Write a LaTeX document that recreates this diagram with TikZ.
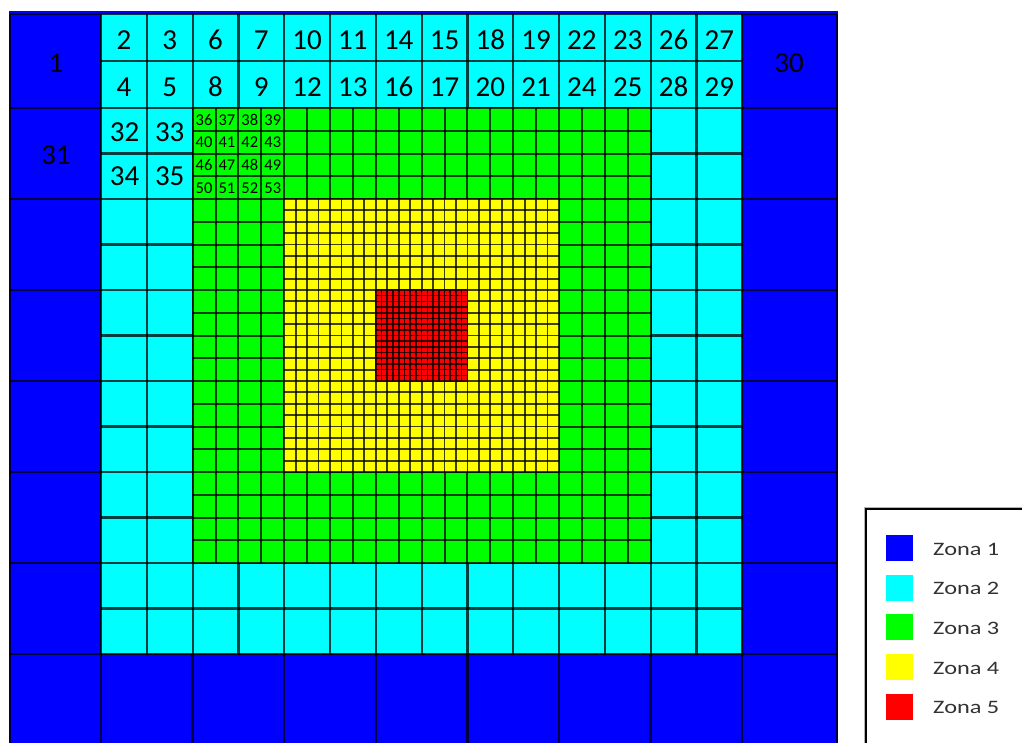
\documentclass[tikz,border=0pt]{standalone}
\usepackage{fontspec}
\setmainfont{Carlito}
\definecolor{zoneA}{RGB}{0,0,255}
\definecolor{zoneB}{RGB}{0,255,255}
\definecolor{zoneC}{RGB}{0,255,0}
\definecolor{zoneD}{RGB}{255,255,0}
\definecolor{zoneE}{RGB}{255,0,0}
\definecolor{legtext}{RGB}{50,50,50}
\newcommand\XB{{10,101,192.6,284.2,375.8,467.4,559,650.6,742.2,837}}
\newcommand\YB{{14,108,199,290,381,472,563,654,745}}
% c1 r1 c2 r2 n fill linewidth
\newcommand\zgrid[7]{%
  \pgfmathsetmacro\zxa{\XB[#1]}%
  \pgfmathsetmacro\zya{\YB[#2]}%
  \pgfmathsetmacro\zxb{\XB[#3]}%
  \pgfmathsetmacro\zyb{\YB[#4]}%
  \fill[#6] (\zxa,\zya) rectangle (\zxb,\zyb);
  \pgfmathtruncatemacro\zcl{#3-1}%
  \pgfmathtruncatemacro\zrl{#4-1}%
  \pgfmathtruncatemacro\zn{#5-1}%
  \foreach \c in {#1,...,\zcl}{%
    \pgfmathsetmacro\zl{\XB[\c]}%
    \pgfmathsetmacro\zr{\XB[\c+1]}%
    \foreach \k in {0,...,\zn}{%
      \pgfmathsetmacro\zx{\zl+\k*(\zr-\zl)/#5}%
      \draw[gridline=#7] (\zx,\zya) -- (\zx,\zyb);
    }%
  }%
  \draw[gridline=#7] (\zxb,\zya) -- (\zxb,\zyb);
  \foreach \r in {#2,...,\zrl}{%
    \pgfmathsetmacro\zt{\YB[\r]}%
    \pgfmathsetmacro\zbm{\YB[\r+1]}%
    \foreach \k in {0,...,\zn}{%
      \pgfmathsetmacro\zy{\zt+\k*(\zbm-\zt)/#5}%
      \draw[gridline=#7] (\zxa,\zy) -- (\zxb,\zy);
    }%
  }%
  \draw[gridline=#7] (\zxa,\zyb) -- (\zxb,\zyb);
}
\begin{document}
\begin{tikzpicture}[x=1pt,y=-1pt,
  gridline/.style={draw=black, draw opacity=0.75, line width=#1},
  biglab/.style={font=\fontsize{29}{30}\selectfont, inner sep=0pt},
  smalllab/.style={font=\fontsize{16.5}{17}\selectfont, inner sep=0pt},
  swatch/.style={minimum width=27pt, minimum height=26pt, inner sep=0pt},
  legtxt/.style={font=\fontsize{19}{20}\selectfont, text=legtext, anchor=west, inner sep=0pt}]
\useasboundingbox (0,0) rectangle (1022,742);
\clip (0,0) rectangle (1022,742);
\fill[white] (0,0) rectangle (1022,742);
% zone 1 background and outer strip
\fill[zoneA] (9,11) rectangle (838,746);
\zgrid{0}{0}{9}{8}{1}{zoneA}{2.4pt}
% zone 2
\zgrid{1}{0}{8}{7}{2}{zoneB}{2.2pt}
% zone 3
\zgrid{2}{1}{7}{6}{4}{zoneC}{2.0pt}
% zone 4
\zgrid{3}{2}{6}{5}{8}{zoneD}{1.8pt}
% zone 5
\zgrid{4}{3}{5}{4}{16}{zoneE}{1.6pt}
% labels zone 1
\node[biglab] (l1) at (56,63) {1};
\node[biglab] (l30) at (789,63) {30};
\node[biglab] (l31) at (56,155) {31};
% labels top cyan row
\foreach \c in {1,...,7}{%
  \pgfmathsetmacro\xl{\XB[\c]}%
  \pgfmathsetmacro\xr{\XB[\c+1]}%
  \pgfmathsetmacro\xa{\xl+(\xr-\xl)/4}%
  \pgfmathsetmacro\xb{\xl+3*(\xr-\xl)/4}%
  \pgfmathtruncatemacro\na{2+4*(\c-1)}%
  \pgfmathtruncatemacro\nb{\na+1}%
  \pgfmathtruncatemacro\nc{\na+2}%
  \pgfmathtruncatemacro\nd{\na+3}%
  \node[biglab] (t\na) at (\xa,40) {\na};
  \node[biglab] (t\nb) at (\xb,40) {\nb};
  \node[biglab] (t\nc) at (\xa,87) {\nc};
  \node[biglab] (t\nd) at (\xb,87) {\nd};
}
\node[biglab] (l32) at (124.5,132) {32};
\node[biglab] (l33) at (169.7,132) {33};
\node[biglab] (l34) at (124.5,176) {34};
\node[biglab] (l35) at (169.7,176) {35};
% small labels in green cell
\foreach \lst [count=\m from 0] in {{36,37,38,39},{40,41,42,43},{46,47,48,49},{50,51,52,53}}{%
  \foreach \v [count=\k from 0] in \lst {%
    \node[smalllab] (s\v) at ({192.6+(\k+0.5)*22.9},{108.5+(\m+0.5)*22.75}) {\v};
  }%
}
% legend
\draw[gray!60, line width=1pt] (864,760) -- (864,507) -- (1030,507);
\draw[black, line width=1.8pt, fill=white] (866,760) -- (866,509) -- (1030,509);
\foreach \i/\col [count=\j from 0] in {1/zoneA,2/zoneB,3/zoneC,4/zoneD,5/zoneE}{%
  \node[swatch, fill=\col] (sw\i) at (899.5,{548+\j*39.7}) {};
  \node[legtxt] (lt\i) at (933,{549+\j*39.7}) {\scalebox{1.28}[1]{Zona \i}};
}
\end{tikzpicture}
\end{document}
